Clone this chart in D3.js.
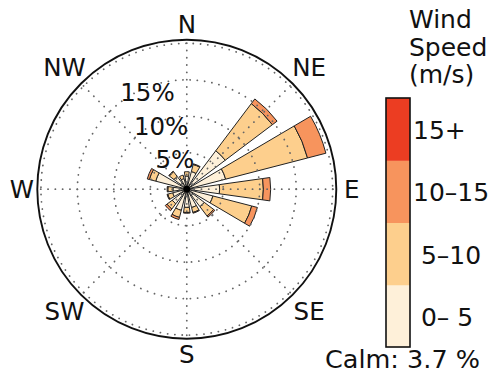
<!DOCTYPE html>
<html>
<head>
<meta charset="utf-8">
<script src="https://cdn.jsdelivr.net/npm/d3@7"></script>
<style>
  html, body { margin: 0; padding: 0; background: #fff; }
  svg { display: block; font-family: "DejaVu Sans", sans-serif; }
  text { white-space: pre; fill: #111; }
</style>
</head>
<body>
<svg id="chart" width="489" height="378"></svg>
<script>
// Sixteen compass sectors, clockwise from north
const directions = ["N", "NNE", "NE", "ENE", "E", "ESE", "SE", "SSE",
                    "S", "SSW", "SW", "WSW", "W", "WNW", "NW", "NNW"];

// Frequency (% of observations) per sector for each wind-speed class
const speed0to5   = [1.8, 2.5, 6.6, 5.5, 4.5, 3.7, 3.0, 2.6, 2.5, 3.0, 2.5, 2.0, 1.9, 4.4, 2.2, 1.5];
const speed5to10  = [0.6, 1.0, 8.1, 11.6, 6.0, 5.5, 1.6, 0.7, 0.7, 1.0, 0.9, 0.7, 0.7, 0.9, 0.8, 0.5];
const speed10to15 = [0.0, 0.1, 0.8, 2.6, 1.0, 0.8, 0.2, 0.1, 0.1, 0.3, 0.3, 0.1, 0.1, 0.3, 0.1, 0.0];
const speed15plus = [0, 0, 0, 0, 0, 0, 0, 0, 0, 0, 0, 0, 0, 0, 0, 0];

// Speed classes (legend tick labels), lowest first
const speedBins = [" 0– 5", " 5–10", "10–15", "15+"];
const binColors = ["#fef0d9", "#fdcf8d", "#f7945d", "#ec3d22"];

// Radial grid (percent) and which rings get a label
const radialTicks = [5, 10, 15, 20];
const radialLabels = [5, 10, 15];

// Compass labels on the angular grid
const compassLabels = ["N", "NE", "E", "SE", "S", "SW", "W", "NW"];

const calmPercent = 3.7;

// ---- layout ----
const svg = d3.select("#chart");
const cx = 186.8, cy = 189.2, R = 149.5;
const rMaxValue = 20.5;

const r = d3.scaleLinear().domain([0, rMaxValue]).range([0, R]);
const theta = d3.scaleLinear().domain([0, directions.length]).range([0, 2 * Math.PI]);
const halfWidth = (16 / 2) * Math.PI / 180;   // each bar spans 16 degrees

const color = d3.scaleOrdinal().domain(speedBins).range(binColors);

const rows = directions.map((dir, i) => ({
  dir,
  [speedBins[0]]: speed0to5[i],
  [speedBins[1]]: speed5to10[i],
  [speedBins[2]]: speed10to15[i],
  [speedBins[3]]: speed15plus[i]
}));

const stacked = d3.stack().keys(speedBins)(rows);

const plot = svg.append("g").attr("transform", `translate(${cx},${cy})`);

// ---- bars ----
const arc = d3.arc()
  .innerRadius(d => r(d[0]))
  .outerRadius(d => r(d[1]))
  .startAngle(d => theta(d.idx) - halfWidth)
  .endAngle(d => theta(d.idx) + halfWidth);

stacked.forEach(layer => {
  const segs = layer.map((d, i) => Object.assign(d, { idx: i })).filter(d => d[1] - d[0] > 0);
  plot.append("g")
    .selectAll("path")
    .data(segs)
    .join("path")
    .attr("d", arc)
    .attr("fill", color(layer.key))
    .attr("stroke", "#222")
    .attr("stroke-width", 1)
    .attr("stroke-linejoin", "miter");
});

// ---- dotted grid, drawn over the bars ----
const gridStyle = sel => sel
  .attr("fill", "none")
  .attr("stroke", "#666")
  .attr("stroke-width", 1.8)
  .attr("stroke-linecap", "round")
  .attr("stroke-dasharray", "0.1 7.2");

plot.append("g").selectAll("circle")
  .data(radialTicks)
  .join("circle")
  .attr("r", d => r(d))
  .call(gridStyle);

const compassAngle = d3.scaleLinear().domain([0, compassLabels.length]).range([0, 2 * Math.PI]);

plot.append("g").selectAll("line")
  .data(compassLabels)
  .join("line")
  .attr("x1", 0).attr("y1", 0)
  .attr("x2", (d, i) => R * Math.sin(compassAngle(i)))
  .attr("y2", (d, i) => -R * Math.cos(compassAngle(i)))
  .call(gridStyle);

// centre hub where the sector edges meet
plot.append("circle").attr("r", 3.4).attr("fill", "#000");

// outer frame
plot.append("circle")
  .attr("r", R)
  .attr("fill", "none")
  .attr("stroke", "#111")
  .attr("stroke-width", 1.9);

// ---- compass labels ----
plot.append("g").selectAll("text")
  .data(compassLabels)
  .join("text")
  .attr("x", (d, i) => (R + (i % 2 ? 23.5 : 15.5)) * Math.sin(compassAngle(i)))
  .attr("y", (d, i) => -(R + (i % 2 ? 23.5 : 15.5)) * Math.cos(compassAngle(i)))
  .attr("text-anchor", "middle")
  .attr("dy", "0.36em")
  .attr("font-size", 24.5)
  .text(d => d);

// ---- radial labels along NNW ----
const labelAngle = -22 * Math.PI / 180;
plot.append("g").selectAll("text")
  .data(radialLabels)
  .join("text")
  .attr("x", d => (r(d) - 4.5) * Math.sin(labelAngle))
  .attr("y", d => -(r(d) - 4.5) * Math.cos(labelAngle))
  .attr("text-anchor", "middle")
  .attr("dy", "0.36em")
  .attr("font-size", 24.5)
  .text(d => d + "%");

// ---- colour bar legend ----
const barX = 386, barW = 24;
const yBand = d3.scaleBand().domain(speedBins.slice().reverse()).range([98, 347]).padding(0);

const legend = svg.append("g");
legend.selectAll("rect.bin")
  .data(speedBins)
  .join("rect")
  .attr("class", "bin")
  .attr("x", barX)
  .attr("y", d => yBand(d))
  .attr("width", barW)
  .attr("height", yBand.bandwidth() + 0.5)
  .attr("fill", d => color(d));

legend.append("rect")
  .attr("x", barX).attr("y", 98)
  .attr("width", barW).attr("height", 249)
  .attr("fill", "none")
  .attr("stroke", "#111")
  .attr("stroke-width", 1.6);

legend.selectAll("text.tick")
  .data(speedBins)
  .join("text")
  .attr("class", "tick")
  .attr("x", barX + barW + 3)
  .attr("y", d => yBand(d) + yBand.bandwidth() / 2)
  .attr("dy", "0.4em")
  .attr("font-size", 25)
  .text(d => d);

const title = ["Wind", "Speed", "(m/s)"];
legend.selectAll("text.title")
  .data(title)
  .join("text")
  .attr("class", "title")
  .attr("x", 409)
  .attr("y", (d, i) => 28.3 + i * 27.5)
  .attr("font-size", 25)
  .text(d => d);

svg.append("text")
  .attr("x", 325)
  .attr("y", 368)
  .attr("font-size", 25.5)
  .text(`Calm: ${calmPercent} %`);
</script>
</body>
</html>
